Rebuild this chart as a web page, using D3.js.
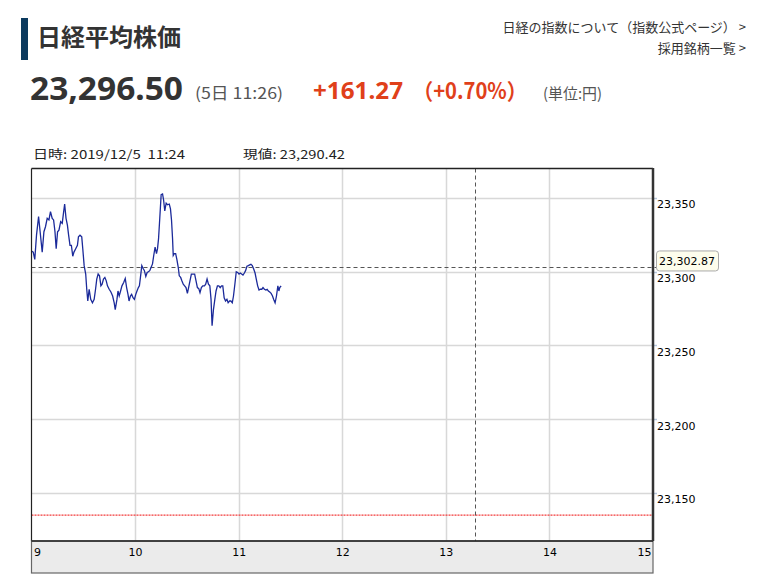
<!DOCTYPE html>
<html><head><meta charset="utf-8">
<script src="https://cdn.jsdelivr.net/npm/d3@7"></script>
<style>
html,body{margin:0;padding:0;background:#fff;}
svg{display:block;}
text{white-space:pre;}
</style></head>
<body>
<svg id="c" width="761" height="585"></svg>
<script>
// ---- data (minutes after 9:00, price) ----
const minutes = [0,1.0,1.9,2.9,4.1,5.0,6.2,7.2,8.1,9.1,10.1,11.0,12.0,12.8,13.6,14.3,15.1,15.9,16.9,17.8,18.4,19.2,20.0,20.8,21.5,22.3,23.1,23.9,24.6,25.6,26.6,27.2,28.1,29.1,29.7,30.5,31.4,32.0,32.6,33.4,34.3,35.3,36.3,37.1,37.8,38.6,39.4,40.2,40.9,41.7,42.5,43.3,44.0,45.0,46.0,47.0,47.9,48.5,
49.5,50.1,50.8,51.6,52.4,53.4,54.3,55.1,55.9,56.5,57.3,58.0,58.8,59.6,60.4,61.1,61.9,62.5,63.1,63.9,64.6,65.4,66.2,67.0,67.7,68.5,69.3,70.1,70.8,71.6,72.4,73.0,73.6,74.3,75.1,75.9,76.5,77.2,78.0,78.8,79.8,80.5,81.1,81.7,82.1,82.7,83.5,84.2,85.0,85.6,86.4,87.1,87.9,88.7,89.5,90.3,91.0,91.8,92.6,93.6,94.5,95.3,96.1,96.9,
97.6,98.4,99.2,100.2,100.9,101.7,102.5,103.3,104.0,104.6,105.4,106.2,106.9,107.7,108.5,109.3,110.1,110.8,111.6,112.4,113.2,113.9,114.7,115.5,116.3,117.0,117.8,118.6,119.4,120.2,120.9,121.7,122.5,123.3,124.0,124.8,125.6,126.4,127.1,127.9,128.7,129.5,130.2,131.0,131.8,132.6,133.4,134.1,134.9,135.7,136.5,137.2,138.0,138.8,139.6,140.3,141.1,141.9,142.7,143.3,143.8,144.6];
const prices = [23314.0,23313.3,23308.3,23324.8,23337.4,23327.1,23313.3,23327.1,23330.5,23336.2,23335.1,23340.8,23336.2,23335.1,23327.1,23315.6,23327.1,23328.2,23333.9,23332.8,23338.5,23345.9,23336.2,23331.6,23324.8,23317.9,23317.9,23310.5,23313.3,23315.6,23317.9,23323.6,23324.8,23323.6,23315.6,23304.1,23298.4,23288.1,23280.1,23288.1,23281.2,23278.9,23281.2,23288.1,23295.0,23298.4,23297.2,23290.4,23291.5,23295.0,23296.1,23293.8,23290.4,23288.1,23286.2,23283.5,23278.9,23274.3,
23281.2,23286.9,23283.5,23286.9,23290.4,23292.7,23295.4,23289.2,23284.6,23280.1,23283.5,23284.6,23282.3,23281.2,23284.6,23286.9,23289.2,23290.4,23296.1,23304.1,23302.3,23300.7,23296.8,23299.5,23300.0,23300.7,23303.0,23305.3,23311.0,23316.7,23312.2,23315.6,23322.5,23336.2,23352.3,23352.7,23348.8,23341.3,23346.5,23345.4,23345.9,23342.6,23335.1,23322.5,23311.0,23312.2,23312.2,23308.3,23303.0,23297.2,23296.1,23293.8,23291.5,23290.4,23289.2,23285.3,23289.2,23293.8,23298.4,23298.4,23298.4,23293.8,23289.2,23288.5,
23285.8,23289.2,23290.4,23290.4,23291.5,23295.0,23291.5,23290.4,23281.2,23263.3,23274.3,23281.2,23286.9,23290.4,23290.4,23289.2,23290.4,23290.4,23282.3,23280.1,23281.2,23278.9,23280.1,23280.1,23278.9,23283.5,23291.5,23300.0,23299.5,23298.4,23299.1,23298.4,23297.7,23299.1,23300.7,23303.7,23304.1,23304.6,23305.0,23304.1,23301.8,23299.1,23295.0,23290.4,23287.6,23288.1,23288.1,23289.2,23288.1,23287.6,23288.1,23286.9,23286.2,23285.3,23283.5,23281.2,23278.9,23283.5,23290.4,23286.9,23289.2,23290.4];
const hourTicks = [9,10,11,12,13,14,15];
const priceTicks = [23150,23200,23250,23300,23350];
const prevClose = 23135.23;
const cursorPrice = 23302.87;
const cursorMinute = 257;
const header = {title:"日経平均株価", price:"23,296.50", time:"(5日 11:26)", change:"+161.27", pct:"（+0.70%）", unit:"(単位:円)"};
const links = ["日経の指数について（指数公式ページ） >", "採用銘柄一覧 >"];
const info = ["日時: 2019/12/5  11:24", "現値: 23,290.42"];

const svg = d3.select("#c");
const JP = "'Noto Sans CJK JP','Noto Sans',sans-serif";
const AX = "'DejaVu Sans',sans-serif";

function txt(s, x, yy, opts){
  const t = svg.append("text").attr("x",x).attr("y",yy).text(s)
    .attr("font-family",opts.family||JP).attr("font-size",opts.size).attr("fill",opts.fill||"#333");
  if (opts.weight) t.attr("font-weight",opts.weight);
  if (opts.len) t.attr("textLength",opts.len).attr("lengthAdjust","spacingAndGlyphs");
  if (opts.anchor) t.attr("text-anchor",opts.anchor);
  return t;
}

// header
svg.append("rect").attr("x",21).attr("y",18).attr("width",7).attr("height",42).attr("fill","#0b3a5e");
txt(header.title, 37, 46, {size:24, weight:700, len:144});
txt(header.price, 30, 100, {family:"'Noto Sans',sans-serif", size:33, weight:700, len:153});
txt(header.time, 195, 99, {size:16, fill:"#555", len:88});
txt(header.change, 313, 99, {family:"'Noto Sans',sans-serif", size:23, weight:700, fill:"#e0401a", len:90});
txt(header.pct, 413, 99, {size:22, weight:700, fill:"#e0401a", len:114});
txt(header.unit, 543, 99, {size:15, fill:"#555", len:59});
links.forEach((d,i)=>txt(d, 746, 32+i*21, {size:13, anchor:"end"}));
txt(info[0], 33, 159, {size:12, fill:"#222", len:152});
txt(info[1], 243, 159, {size:12, fill:"#222", len:102});

// chart
const L=31.5, R=653, T=168.5, B=541;
const x = d3.scaleLinear().domain([0,360]).range([L,R]);
const y = d3.scaleLinear().domain([23117.3,23370]).range([B,T]);

const g = svg.append("g");
g.append("rect").attr("x",L).attr("y",T).attr("width",R-L).attr("height",B-T).attr("fill","#fff");
// grid
g.selectAll("line.hg").data(priceTicks).enter().append("line")
  .attr("x1",L).attr("x2",R).attr("y1",d=>Math.round(y(d))+0.5).attr("y2",d=>Math.round(y(d))+0.5)
  .attr("stroke","#d8d8d8").attr("stroke-width",1.5);
g.selectAll("line.ht").data(priceTicks).enter().append("line")
  .attr("x1",R).attr("x2",R+4).attr("y1",d=>Math.round(y(d))+0.5).attr("y2",d=>Math.round(y(d))+0.5)
  .attr("stroke","#b9c8dc").attr("stroke-width",1.5);
g.selectAll("line.vg").data(hourTicks.slice(1,-1)).enter().append("line")
  .attr("x1",d=>Math.round(x((d-9)*60))+0.5).attr("x2",d=>Math.round(x((d-9)*60))+0.5).attr("y1",T).attr("y2",B)
  .attr("stroke","#d8d8d8").attr("stroke-width",1.5);
// previous close
g.append("line").attr("x1",L).attr("x2",R).attr("y1",y(prevClose)+0.5).attr("y2",y(prevClose)+0.5)
  .attr("stroke","#f23a3a").attr("stroke-width",1.3).attr("stroke-dasharray","2,1");
// cursor lines
g.append("line").attr("x1",Math.round(x(cursorMinute))+0.5).attr("x2",Math.round(x(cursorMinute))+0.5).attr("y1",T).attr("y2",B)
  .attr("stroke","#555").attr("stroke-width",1).attr("stroke-dasharray","4,3");
g.append("line").attr("x1",L).attr("x2",R+4).attr("y1",Math.round(y(cursorPrice))+0.5).attr("y2",Math.round(y(cursorPrice))+0.5)
  .attr("stroke","#555").attr("stroke-width",1).attr("stroke-dasharray","4,3");
// price line
const line = d3.line().x((d,i)=>x(minutes[i])).y(d=>y(d));
g.append("path").attr("d",line(prices)).attr("fill","none").attr("stroke","#1b2a9a").attr("stroke-width",1.3);
// borders
g.append("line").attr("x1",L).attr("x2",R).attr("y1",T).attr("y2",T).attr("stroke","#222").attr("stroke-width",1.5);
g.append("line").attr("x1",L).attr("x2",L).attr("y1",T).attr("y2",B).attr("stroke","#222").attr("stroke-width",1.2);
// x axis band
g.append("rect").attr("x",L).attr("y",B).attr("width",R-L).attr("height",32)
  .attr("fill","#ebebeb").attr("stroke","#666").attr("stroke-width",1.2);
g.append("line").attr("x1",L).attr("x2",R).attr("y1",B).attr("y2",B).attr("stroke","#222").attr("stroke-width",1.5);
g.append("line").attr("x1",R).attr("x2",R).attr("y1",T-0.5).attr("y2",B).attr("stroke","#333").attr("stroke-width",2.5);

const xAxis = d3.axisBottom(x).tickValues(hourTicks.map(h=>(h-9)*60)).tickSize(0).tickFormat(d=>String(d/60+9));
const xa = g.append("g").attr("transform",`translate(0,${B})`).call(xAxis);
xa.select(".domain").remove();
xa.selectAll("text").attr("font-family",AX).attr("font-size",11).attr("fill","#000").attr("dy","0").attr("y",15)
  .attr("text-anchor",(d,i,n)=>i===0?"start":(i===n.length-1?"end":"middle"))
  .attr("dx",(d,i,n)=>i===0?2:(i===n.length-1?-2:0));

const yAxis = d3.axisRight(y).tickValues(priceTicks).tickSize(0).tickFormat(d3.format(","));
const ya = g.append("g").attr("transform",`translate(${R},0)`).call(yAxis);
ya.select(".domain").remove();
ya.selectAll("text").attr("font-family",AX).attr("font-size",11).attr("fill","#000").attr("x",4).attr("dy","0").attr("y",10);

// cursor price label
const cy = y(cursorPrice);
g.append("rect").attr("x",656.5).attr("y",cy-16.5).attr("width",62).attr("height",20).attr("rx",3)
  .attr("fill","#fdfdec").attr("stroke","#aaa").attr("stroke-width",1);
g.append("text").attr("x",659).attr("y",cy-2).text(d3.format(",.2f")(cursorPrice))
  .attr("font-family",AX).attr("font-size",11).attr("fill","#000");
</script>
</body></html>
